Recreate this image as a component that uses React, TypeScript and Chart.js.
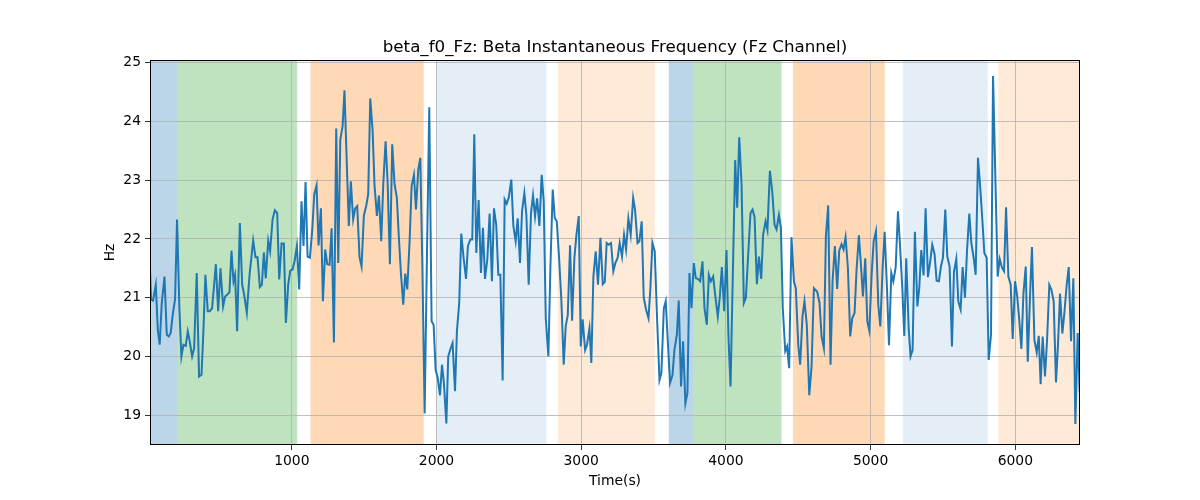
import React, { useEffect, useRef } from 'react';
import { Chart, registerables } from 'chart.js';

Chart.register(...registerables);

const TITLE = 'beta_f0_Fz: Beta Instantaneous Frequency (Fz Channel)';
const X_LABEL = 'Time(s)';
const Y_LABEL = 'Hz';

const xTicks = [1000, 2000, 3000, 4000, 5000, 6000];
const yTicks = [19, 20, 21, 22, 23, 24, 25];
const xRange = [20, 6447];
const yRange = [18.494, 25.044];

const timeS = [
  20, 27, 41, 60, 74, 87, 101, 120, 136, 150, 163, 177, 193, 207, 223, 237, 251, 267, 281, 293,
  311, 325, 343, 359, 376, 389, 403, 419, 433, 449, 461, 475, 491, 507, 525, 539, 553, 569, 583, 597,
  608, 622, 641,
  657, 671, 689, 708, 733, 749, 763, 779, 793, 807, 820, 837, 850, 867, 883, 899, 913, 929, 945, 959,
  975, 989, 1005, 1019, 1035, 1051, 1067, 1081, 1095, 1109, 1125, 1141, 1155, 1171, 1185, 1201, 1215, 1231, 1245, 1261,
  1275, 1291,
  1307, 1321, 1335, 1351, 1364, 1381, 1394, 1408, 1424, 1438, 1452, 1468, 1482, 1498, 1514, 1528, 1542, 1558, 1572, 1588,
  1602, 1618, 1632, 1648, 1662, 1678, 1694, 1710, 1726, 1740, 1754, 1770, 1784, 1798, 1814, 1828, 1844, 1858, 1874, 1888,
  1902, 1918, 1934, 1950, 1966, 1980,
  1994, 2008, 2024, 2038, 2051, 2068, 2081, 2098, 2111, 2128, 2141, 2157, 2171, 2187, 2204, 2217, 2234, 2247, 2261, 2275,
  2291, 2307, 2321, 2335, 2351, 2367, 2383, 2397, 2413, 2427, 2441, 2457, 2471, 2485, 2499, 2517, 2531, 2547, 2561, 2577,
  2591, 2607, 2621, 2637,
  2653, 2667, 2681, 2695, 2711, 2727, 2741, 2755, 2773, 2787, 2803, 2817, 2831, 2847, 2863, 2879, 2893, 2907, 2923, 2937,
  2953, 2967, 2983, 2997, 3010, 3027, 3040, 3057, 3070, 3084, 3100, 3116, 3133, 3149, 3163, 3176, 3190, 3206, 3222, 3236,
  3252, 3266, 3282, 3296,
  3310, 3326, 3342, 3359, 3372, 3389, 3402, 3418, 3432, 3448, 3465, 3478, 3492, 3508, 3525, 3541, 3554, 3571, 3584, 3601,
  3614, 3631, 3644, 3661, 3674, 3690, 3704, 3720, 3734, 3748, 3762, 3778, 3792, 3806, 3822, 3838, 3852, 3868, 3882, 3896,
  3912, 3928, 3944,
  3958, 3972, 3988, 4004, 4018, 4032, 4048, 4064, 4078, 4092, 4108, 4124, 4138, 4154, 4170, 4184, 4198, 4214, 4228, 4244,
  4257, 4274, 4287, 4304, 4320, 4336, 4350, 4366, 4380, 4393, 4410, 4423, 4437, 4453, 4470, 4483, 4500, 4513, 4529, 4543,
  4559, 4576, 4592, 4608,
  4631, 4647, 4661, 4677, 4691, 4707, 4723, 4737, 4753, 4769, 4783, 4799, 4813, 4827, 4843, 4859, 4873, 4889, 4903, 4919,
  4933, 4947, 4963, 4977, 4991, 5007, 5021, 5037, 5053, 5067, 5083, 5097, 5113, 5127, 5143, 5157, 5173, 5189, 5203, 5219,
  5233, 5246, 5263,
  5276, 5290, 5306, 5323, 5336, 5350, 5366, 5380, 5396, 5412, 5426, 5442, 5456, 5472, 5486, 5500, 5516, 5530, 5546, 5562,
  5576, 5592, 5606, 5622, 5636, 5652, 5666, 5682, 5696, 5712, 5726, 5742, 5756, 5772, 5786, 5802, 5816, 5832, 5846, 5878,
  5892, 5908, 5922,
  5936, 5952, 5968, 5982, 5998, 6012, 6028, 6042, 6056, 6072, 6086, 6102, 6115, 6132, 6148, 6162, 6175, 6189, 6205, 6219,
  6235, 6249, 6265, 6281, 6295, 6309, 6325, 6339, 6355, 6369, 6385, 6401, 6415, 6431, 6445,
];

const freqHz = [
  21.50, 20.97, 20.95, 21.22, 20.45, 20.20, 20.90, 21.36, 20.37, 20.34, 20.40, 20.71, 20.97, 22.33, 20.82, 20.00, 20.20, 20.18, 20.43, 20.28,
  20.00, 20.14, 21.42, 19.66, 19.69, 20.43, 21.39, 20.77, 20.77, 20.82, 21.16, 21.57, 20.77, 21.50, 20.85, 21.02, 21.05, 21.09, 21.80, 21.28,
  21.39, 20.43, 22.27,
  21.22, 21.05, 20.74, 21.39, 21.97, 21.69, 21.69, 21.18, 21.22, 21.77, 21.33, 21.97, 21.79, 22.33, 22.49, 22.44, 21.31, 21.92, 21.92, 20.57,
  21.22, 21.46, 21.48, 21.62, 21.88, 21.14, 22.64, 21.88, 22.97, 21.70, 21.68, 22.14, 22.76, 22.91, 21.89, 22.52, 20.94, 21.82, 21.57, 21.56,
  22.18, 20.24,
  23.88, 21.59, 23.69, 23.92, 24.53, 23.21, 22.22, 22.98, 22.33, 22.52, 22.56, 21.69, 21.53, 22.40, 22.56, 22.76, 24.39, 23.86, 22.90, 22.39,
  22.74, 21.96, 22.93, 23.66, 22.98, 21.57, 23.61, 22.93, 22.70, 22.02, 21.42, 20.88, 21.41, 21.14, 21.96, 22.90, 23.09, 22.50, 23.18, 23.38,
  21.59, 19.03, 21.73, 24.24, 20.60, 20.54,
  19.77, 19.64, 19.34, 19.86, 19.55, 18.86, 20.00, 20.14, 20.23, 19.41, 20.43, 20.91, 22.09, 21.68, 21.32, 21.88, 21.99, 21.99, 23.78, 21.76,
  22.66, 21.42, 22.19, 21.32, 21.65, 22.43, 21.28, 22.52, 22.23, 21.39, 21.39, 19.59, 22.67, 22.60, 22.70, 23.01, 22.22, 21.96, 22.35, 21.59,
  22.47, 22.78, 22.41, 21.22,
  22.44, 22.74, 22.38, 22.69, 22.22, 23.09, 22.64, 20.65, 20.00, 21.51, 22.84, 22.36, 22.30, 21.68, 20.95, 19.86, 20.52, 20.70, 21.89, 20.61,
  21.68, 22.07, 22.39, 20.17, 20.63, 20.11, 20.20, 20.48, 19.89, 21.35, 21.79, 21.22, 22.02, 21.23, 21.27, 21.93, 21.90, 21.93, 21.45, 21.59,
  21.68, 21.93, 21.70, 22.07,
  21.82, 22.35, 22.07, 22.70, 22.50, 21.93, 21.96, 22.30, 21.00, 20.80, 20.65, 21.16, 21.93, 21.79, 20.60, 19.60, 19.72, 20.82, 20.94, 20.14,
  19.55, 19.69, 20.11, 20.37, 20.95, 19.49, 20.26, 19.20, 19.38, 21.42, 20.82, 21.59, 21.33, 21.32, 21.28, 21.62, 20.82, 20.54, 21.39, 21.28,
  21.36, 21.00, 20.68,
  21.02, 21.52, 20.77, 21.81, 20.31, 19.49, 21.42, 23.34, 22.53, 23.73, 22.93, 20.91, 21.00, 21.73, 22.44, 22.50, 22.37, 21.23, 21.70, 21.32,
  22.07, 22.30, 22.15, 23.16, 22.81, 22.24, 22.16, 22.41, 22.19, 20.82, 20.09, 20.17, 19.80, 22.03, 21.28, 21.16, 20.20, 19.86, 20.68, 20.94,
  20.54, 19.34, 19.83, 21.16,
  21.10, 20.91, 20.34, 20.14, 22.05, 22.57, 19.86, 21.28, 21.88, 21.15, 21.80, 21.91, 21.82, 22.03, 21.51, 20.34, 20.65, 20.74, 21.48, 22.06,
  21.56, 21.02, 21.67, 20.60, 20.44, 21.39, 21.96, 22.13, 20.88, 20.51, 21.51, 22.12, 21.16, 20.19, 21.42, 21.28, 21.51, 22.47, 21.90, 21.16,
  20.35, 21.67, 20.48,
  20.00, 20.11, 22.12, 20.85, 21.16, 21.81, 21.38, 22.52, 21.35, 21.62, 21.90, 21.74, 21.29, 21.28, 21.53, 21.68, 22.50, 21.70, 21.53, 20.17,
  21.44, 21.66, 20.94, 20.80, 21.52, 21.00, 21.79, 22.43, 21.93, 21.68, 21.39, 23.38, 22.93, 22.33, 21.76, 21.68, 19.94, 20.37, 24.77, 21.36,
  21.66, 21.51, 21.45,
  22.54, 21.36, 21.22, 20.30, 21.28, 21.05, 20.60, 20.13, 21.07, 21.53, 19.91, 21.05, 21.86, 20.28, 20.07, 20.35, 19.53, 20.34, 19.66, 20.26,
  21.22, 21.14, 20.94, 19.56, 20.21, 21.07, 20.39, 20.74, 21.22, 21.52, 20.26, 21.33, 18.85, 20.40, 19.40,
];

// shaded segments (seconds) and their kind
const spanStart = [0, 212, 1129, 1998, 2837, 3605, 3773, 4463, 5223, 5883];
const spanEnd = [212, 1037, 1911, 2759, 3508, 3773, 4384, 5097, 5809, 6500];
const spanKind = ['blue', 'green', 'orange', 'blueLight', 'orangeLight', 'blue', 'green', 'orange', 'blueLight', 'orangeLight'];

const spanFill: Record<string, string> = {
  blue: 'rgba(31,119,180,0.3)',
  green: 'rgba(44,160,44,0.3)',
  orange: 'rgba(255,127,14,0.3)',
  blueLight: 'rgba(31,119,180,0.12)',
  orangeLight: 'rgba(255,127,14,0.16)',
};

const FONT = '"DejaVu Sans", sans-serif';

export default function App() {
  const ref = useRef<HTMLCanvasElement>(null);

  useEffect(() => {
    document.body.style.margin = '0';
    const canvas = ref.current;
    if (!canvas) return;

    const decor = {
      id: 'decor',
      beforeDraw(chart: any) {
        const { ctx, chartArea: a, scales } = chart;
        const x = scales.x;
        ctx.save();
        ctx.beginPath();
        ctx.rect(a.left, a.top, a.right - a.left, a.bottom - a.top);
        ctx.clip();
        spanStart.forEach((s, i) => {
          const x0 = x.getPixelForValue(s);
          const x1 = x.getPixelForValue(spanEnd[i]);
          ctx.fillStyle = spanFill[spanKind[i]];
          ctx.fillRect(x0, a.top, x1 - x0, a.bottom - a.top);
        });
        ctx.restore();
      },
      afterDraw(chart: any) {
        const { ctx, chartArea: a } = chart;
        ctx.save();
        ctx.strokeStyle = '#000';
        ctx.lineWidth = 1;
        ctx.strokeRect(Math.round(a.left) + 0.5, Math.round(a.top) + 0.5, Math.round(a.right - a.left) - 1, Math.round(a.bottom - a.top) - 1);
        ctx.fillStyle = '#000';
        ctx.font = `16.7px ${FONT}`;
        ctx.textAlign = 'center';
        ctx.textBaseline = 'alphabetic';
        ctx.fillText(TITLE, (a.left + a.right) / 2, a.top - 8.5);
        ctx.restore();
      },
    };

    const chart = new Chart(canvas, {
      type: 'line',
      data: {
        datasets: [
          {
            data: timeS.map((t, i) => ({ x: t, y: freqHz[i] })),
            borderColor: '#1f77b4',
            borderWidth: 2,
            pointRadius: 0,
            tension: 0,
            fill: false,
          },
        ],
      },
      options: {
        responsive: false,
        animation: false,
        devicePixelRatio: 1,
        layout: { padding: { left: 95, right: 120, top: 60, bottom: 0 } },
        plugins: { legend: { display: false }, tooltip: { enabled: false }, title: { display: false } },
        scales: {
          x: {
            type: 'linear',
            min: xRange[0],
            max: xRange[1],
            afterFit: (s: any) => { s.height = 55; },
            afterBuildTicks: (s: any) => { s.ticks = xTicks.map((v) => ({ value: v })); },
            grid: { color: '#b0b0b0', lineWidth: 0.8, tickColor: '#000', tickLength: 5, drawTicks: true },
            border: { display: false },
            ticks: { color: '#000', font: { family: FONT, size: 13.9 }, padding: 3, maxRotation: 0, callback: (v: any) => String(v) },
            title: { display: true, text: X_LABEL, color: '#000', font: { family: FONT, size: 13.9 }, padding: { top: 0, bottom: 10.5 } },
          },
          y: {
            type: 'linear',
            min: yRange[0],
            max: yRange[1],
            afterFit: (s: any) => { s.width = 55; },
            afterBuildTicks: (s: any) => { s.ticks = yTicks.map((v) => ({ value: v })); },
            grid: { color: '#b0b0b0', lineWidth: 0.8, tickColor: '#000', tickLength: 5, drawTicks: true },
            border: { display: false },
            ticks: { color: '#000', font: { family: FONT, size: 13.9 }, padding: 4, callback: (v: any) => String(v) },
            title: { display: true, text: Y_LABEL, color: '#000', font: { family: FONT, size: 13.9 }, padding: { top: 7, bottom: 0 } },
          },
        },
      },
      plugins: [decor],
    });

    return () => chart.destroy();
  }, []);

  return (
    <div style={{ width: 1200, height: 500 }}>
      <canvas ref={ref} width={1200} height={500} style={{ display: 'block' }} />
    </div>
  );
}
